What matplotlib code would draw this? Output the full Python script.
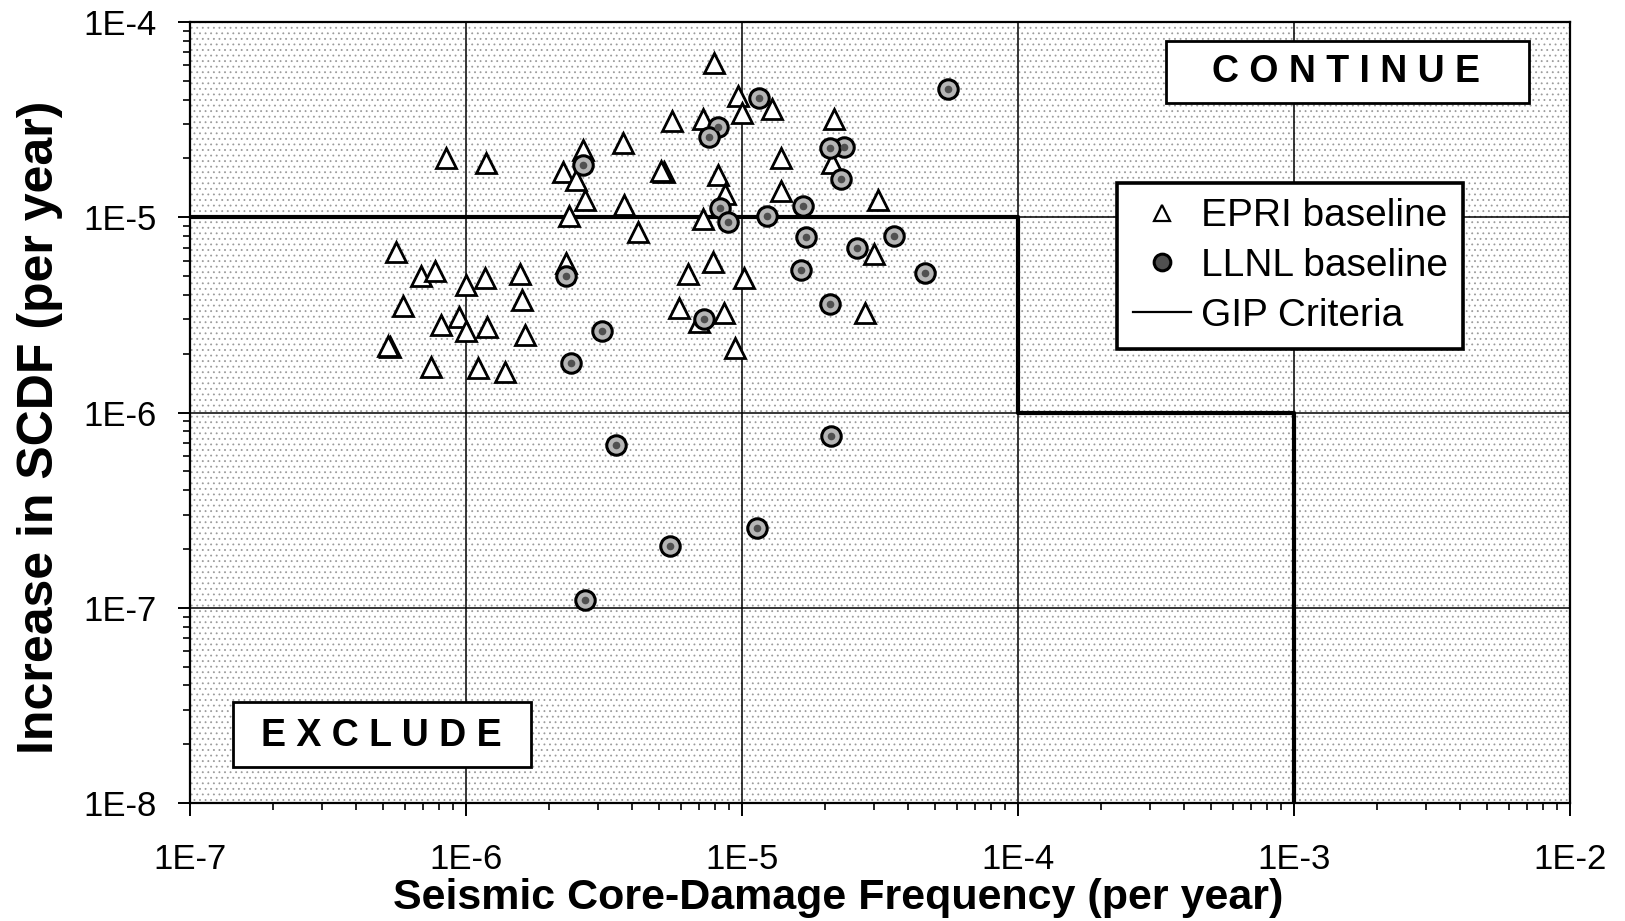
import matplotlib
matplotlib.use("Agg")
import matplotlib.pyplot as plt
from matplotlib.patches import Rectangle
from matplotlib.lines import Line2D
from matplotlib.ticker import LogLocator, NullFormatter, FixedLocator, FixedFormatter

plt.rcParams['font.family'] = ['Liberation Sans', 'DejaVu Sans']
plt.rcParams['hatch.linewidth'] = 0.6

# ---- data ----
epri_x = [7.9e-6, 9.7e-6, 1.0e-5, 5.6e-6, 7.2e-6, 3.7e-6, 2.65e-6, 8.5e-7, 1.18e-6,
          2.25e-6, 2.5e-6, 5.2e-6, 5.1e-6, 8.2e-6, 8.7e-6, 2.7e-6, 3.75e-6, 2.37e-6,
          7.2e-6, 4.2e-6, 1.28e-5, 2.15e-5, 1.38e-5, 2.12e-5, 1.38e-5, 3.1e-5, 3.0e-5,
          2.8e-5, 7.85e-6, 6.4e-6, 1.02e-5, 5.6e-7, 6.85e-7, 7.7e-7, 1.0e-6, 1.17e-6,
          1.57e-6, 2.3e-6, 5.9e-7, 1.6e-6, 8.1e-7, 9.4e-7, 1.0e-6, 1.19e-6, 1.64e-6,
          5.9e-6, 8.6e-6, 7.0e-6, 5.3e-7, 5.2e-7, 9.4e-6, 7.5e-7, 1.11e-6, 1.39e-6]
epri_y = [6.2e-5, 4.2e-5, 3.4e-5, 3.1e-5, 3.2e-5, 2.4e-5, 2.2e-5, 2.0e-5, 1.9e-5,
          1.7e-5, 1.55e-5, 1.7e-5, 1.72e-5, 1.65e-5, 1.32e-5, 1.23e-5, 1.15e-5, 1.02e-5,
          9.8e-6, 8.4e-6, 3.6e-5, 3.2e-5, 2.0e-5, 1.9e-5, 1.36e-5, 1.23e-5, 6.5e-6,
          3.25e-6, 5.9e-6, 5.1e-6, 4.9e-6, 6.6e-6, 5.0e-6, 5.3e-6, 4.5e-6, 4.9e-6,
          5.1e-6, 5.8e-6, 3.5e-6, 3.75e-6, 2.8e-6, 3.1e-6, 2.6e-6, 2.75e-6, 2.5e-6,
          3.45e-6, 3.25e-6, 2.9e-6, 2.16e-6, 2.2e-6, 2.15e-6, 1.72e-6, 1.69e-6, 1.62e-6]

llnl_x = [2.65e-6, 8.2e-6, 7.6e-6, 8.3e-6, 8.9e-6, 1.15e-5, 5.6e-5, 2.34e-5, 2.08e-5,
          2.28e-5, 1.66e-5, 1.23e-5, 1.7e-5, 3.55e-5, 2.62e-5, 4.6e-5, 1.63e-5, 2.08e-5,
          2.3e-6, 3.1e-6, 2.4e-6, 7.3e-6, 3.5e-6, 2.1e-5, 1.13e-5, 5.5e-6, 2.7e-6]
llnl_y = [1.85e-5, 2.9e-5, 2.57e-5, 1.12e-5, 9.45e-6, 4.1e-5, 4.55e-5, 2.3e-5, 2.25e-5,
          1.57e-5, 1.14e-5, 1.01e-5, 7.9e-6, 8.0e-6, 7.0e-6, 5.2e-6, 5.4e-6, 3.6e-6,
          5.0e-6, 2.6e-6, 1.8e-6, 3.0e-6, 6.8e-7, 7.6e-7, 2.55e-7, 2.08e-7, 1.09e-7]

gip_x = [1e-7, 1e-4, 1e-4, 1e-3, 1e-3]
gip_y = [1e-5, 1e-5, 1e-6, 1e-6, 1e-8]

x_ticks = [1e-7, 1e-6, 1e-5, 1e-4, 1e-3, 1e-2]
x_labels = ['1E-7', '1E-6', '1E-5', '1E-4', '1E-3', '1E-2']
y_ticks = [1e-8, 1e-7, 1e-6, 1e-5, 1e-4]
y_labels = ['1E-8', '1E-7', '1E-6', '1E-5', '1E-4']

series_labels = ['EPRI baseline', 'LLNL baseline', 'GIP Criteria']
zone_labels = ['C O N T I N U E', 'E X C L U D E']

# ---- figure ----
fig = plt.figure(figsize=(16.25, 9.21), dpi=100)
ax = fig.add_axes([0.1169, 0.1281, 0.8492, 0.848])
ax.set_xscale('log')
ax.set_yscale('log')
ax.set_xlim(1e-7, 1e-2)
ax.set_ylim(1e-8, 1e-4)

# stippled background
ax.set_facecolor('white')
ax.add_patch(Rectangle((0, 0), 1, 1, transform=ax.transAxes, facecolor='white',
                       hatch='...', edgecolor='#9c9c9c', lw=0, zorder=0))

ax.grid(True, which='major', color='black', lw=1.1, zorder=1)
ax.set_axisbelow(True)

ax.plot(gip_x, gip_y, color='black', lw=3.0, zorder=2, solid_capstyle='butt')

ax.plot(epri_x, epri_y, ls='none', marker='^', ms=14, mfc='white', mec='black',
        mew=2.0, zorder=4)
ax.plot(llnl_x, llnl_y, ls='none', marker='o', ms=14, mfc='#b5b5b5', mec='black',
        mew=2.2, zorder=5)
ax.plot(llnl_x, llnl_y, ls='none', marker='o', ms=5.5, mfc='#505050', mec='none', zorder=6)

# ticks
ax.xaxis.set_major_locator(FixedLocator(x_ticks))
ax.xaxis.set_major_formatter(FixedFormatter(x_labels))
ax.yaxis.set_major_locator(FixedLocator(y_ticks))
ax.yaxis.set_major_formatter(FixedFormatter(y_labels))
ax.xaxis.set_minor_locator(LogLocator(base=10, subs=range(2, 10), numticks=20))
ax.yaxis.set_minor_locator(LogLocator(base=10, subs=range(2, 10), numticks=20))
ax.xaxis.set_minor_formatter(NullFormatter())
ax.yaxis.set_minor_formatter(NullFormatter())
ax.tick_params(which='major', direction='out', length=9, width=1.4, labelsize=25)
ax.tick_params(axis='x', which='major', pad=20)
ax.tick_params(axis='y', which='major', pad=15)
ax.tick_params(which='minor', direction='out', length=5, width=1.2)
for sp in ax.spines.values():
    sp.set_linewidth(1.6)

ax.set_xlabel('Seismic Core-Damage Frequency (per year)', fontsize=31, fontweight='bold')
ax.set_ylabel('Increase in SCDF (per year)', fontsize=36, fontweight='bold')
ax.xaxis.set_label_coords(0.47, -0.122)
ax.xaxis.label.set_va('center')
ax.yaxis.set_label_coords(-0.109, 0.481)
ax.yaxis.label.set_va('center')

# zone boxes
ax.add_patch(Rectangle((0.707, 0.896), 0.263, 0.080, transform=ax.transAxes,
                       facecolor='white', edgecolor='black', lw=2.0, zorder=7))
ax.text(0.838, 0.936, zone_labels[0], transform=ax.transAxes, fontsize=27,
        fontweight='bold', ha='center', va='center', zorder=8)
ax.add_patch(Rectangle((0.031, 0.046), 0.216, 0.083, transform=ax.transAxes,
                       facecolor='white', edgecolor='black', lw=2.0, zorder=7))
ax.text(0.139, 0.0864, zone_labels[1], transform=ax.transAxes, fontsize=27,
        fontweight='bold', ha='center', va='center', zorder=8)

# legend
h1 = Line2D([], [], ls='none', marker='^', ms=12, mfc='white', mec='black', mew=1.6)
h2 = Line2D([], [], ls='none', marker='o', ms=12, mfc='#505050', mec='black', mew=2.2)
h3 = Line2D([], [], color='black', lw=1.6)
leg = ax.legend([h1, h2, h3], series_labels, loc='upper left',
                bbox_to_anchor=(0.672, 0.794), borderaxespad=0, fontsize=28,
                frameon=True, fancybox=False, edgecolor='black', framealpha=1,
                handlelength=1.5, handletextpad=0.25, labelspacing=0.35, borderpad=0.4)
leg.get_frame().set_linewidth(2.6)
leg.set_zorder(9)

fig.savefig('out.png', dpi=100)
